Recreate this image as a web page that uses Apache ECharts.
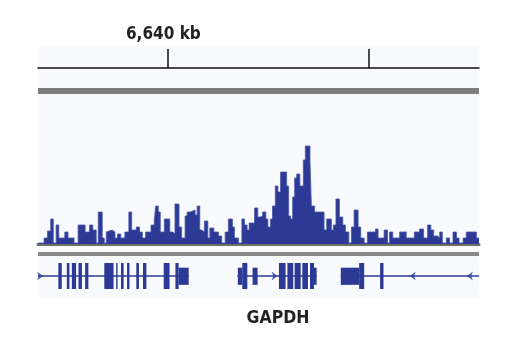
<!DOCTYPE html>
<html>
<head>
<meta charset="utf-8">
<script src="https://cdn.jsdelivr.net/npm/echarts@6/dist/echarts.min.js"></script>
<style>
  html, body { margin: 0; padding: 0; background: #fff; }
  #main { width: 520px; height: 350px; }
</style>
</head>
<body>
<div id="main"></div>
<script>
// view window, kb (hg19 chr12)
const viewStart = 6633.58;
const viewEnd = 6655.47;
const rulerTicks = [6640, 6650];
const rulerLabels = [6640];

// ChIP-seq signal: step starts (kb) and heights
const sigStart = [
  6633.60, 6633.88, 6634.05, 6634.21, 6634.34, 6634.48, 6634.61, 6634.91, 6635.07, 6635.37,
  6635.57, 6635.92, 6636.14, 6636.30, 6636.47, 6636.57, 6636.77, 6636.87, 6636.97, 6637.06,
  6637.26, 6637.40, 6637.53, 6637.69, 6637.89, 6638.09, 6638.23, 6638.46, 6638.62, 6638.76,
  6638.92, 6639.19, 6639.35, 6639.42, 6639.55, 6639.65, 6639.85, 6640.12, 6640.28, 6640.38,
  6640.58, 6640.71, 6640.88, 6640.98, 6641.14, 6641.38, 6641.48, 6641.61, 6641.71, 6641.84,
  6642.01, 6642.11, 6642.31, 6642.54, 6642.70, 6642.87, 6643.03, 6643.23, 6643.33, 6643.53,
  6643.70, 6643.83, 6643.96, 6644.06, 6644.33, 6644.49, 6644.63, 6644.73, 6644.89, 6644.99,
  6645.12, 6645.22, 6645.36, 6645.49, 6645.62, 6645.92, 6646.02, 6646.12, 6646.22, 6646.32,
  6646.42, 6646.58, 6646.75, 6646.85, 6647.08, 6647.15, 6647.31, 6647.78, 6647.91, 6648.14,
  6648.24, 6648.37, 6648.54, 6648.71, 6648.84, 6649.01, 6649.14, 6649.27, 6649.47, 6649.60,
  6649.77, 6649.93, 6650.33, 6650.46, 6650.76, 6650.93, 6651.03, 6651.19, 6651.53, 6651.86,
  6652.26, 6652.52, 6652.72, 6652.92, 6653.08, 6653.22, 6653.42, 6653.52, 6653.65, 6653.85,
  6654.01, 6654.18, 6654.35, 6654.48, 6654.68, 6654.84, 6655.34, 6655.47
];
const sigValue = [
  1, 6, 13, 25, 1, 19, 6, 12, 6, 1,
  19, 12, 19, 14, 1, 32, 6, 1, 12, 14,
  12, 6, 10, 6, 12, 32, 14, 17, 12, 6,
  12, 19, 23, 38, 32, 12, 25, 12, 10, 40,
  17, 6, 28, 32, 34, 29, 38, 14, 12, 23,
  6, 16, 12, 8, 1, 12, 25, 17, 6, 1,
  25, 19, 14, 21, 36, 27, 28, 32, 25, 17,
  25, 38, 58, 52, 72, 58, 28, 25, 47, 66,
  70, 58, 84, 98, 84, 38, 32, 14, 25, 14,
  19, 45, 27, 19, 12, 1, 17, 34, 17, 6,
  1, 12, 15, 6, 14, 1, 12, 6, 12, 6,
  12, 15, 6, 19, 14, 8, 6, 12, 1, 6,
  1, 12, 6, 1, 6, 12, 6, 6
];

// gene models: introns (line spans) and exons
const geneStart = [6633.58, 6643.48, 6648.61];
const geneEnd = [6641.06, 6647.41, 6655.47];
const exonStart = [
  6634.59, 6635.01, 6635.26, 6635.59, 6635.92, 6636.87, 6637.46, 6637.70, 6638.00, 6638.46,
  6638.79, 6639.82, 6640.40, 6640.56,
  6643.50, 6643.72, 6644.23, 6645.54, 6645.96, 6646.32, 6646.70, 6647.08, 6647.28,
  6648.61, 6649.52, 6650.56
];
const exonEnd = [
  6634.76, 6635.14, 6635.47, 6635.76, 6636.08, 6637.33, 6637.53, 6637.83, 6638.12, 6638.59,
  6638.96, 6640.11, 6640.56, 6641.06,
  6643.72, 6643.97, 6644.48, 6645.87, 6646.25, 6646.62, 6646.98, 6647.28, 6647.41,
  6649.52, 6649.77, 6650.73
];
const exonKind = [
  'cds', 'cds', 'cds', 'cds', 'cds', 'cds', 'cds', 'cds', 'cds', 'cds',
  'cds', 'cds', 'cds', 'utr',
  'utr', 'cds', 'utr', 'cds', 'cds', 'cds', 'cds', 'cds', 'utr',
  'utr', 'cds', 'cds'
];
const arrowPos = [6633.68, 6645.32, 6652.19, 6655.02];
const arrowDir = ['+', '+', '-', '-'];
const geneName = 'GAPDH';

const blue = '#2c3a95';

const signalData = sigStart.map((s, i) => [s, sigValue[i]]);
const intronData = geneStart.map((s, i) => [s, geneEnd[i]]);
const exonData = exonStart.map((s, i) => [s, exonEnd[i], exonKind[i] === 'cds' ? 1 : 0]);
const arrowData = arrowPos.map((p, i) => ({ value: [p, 0.5], symbolRotate: arrowDir[i] === '+' ? 0 : 180 }));

const chart = echarts.init(document.getElementById('main'));

const hiddenX = (idx) => ({
  type: 'value', gridIndex: idx, min: viewStart, max: viewEnd,
  axisLine: { show: false }, axisTick: { show: false },
  axisLabel: { show: false }, splitLine: { show: false }
});
const hiddenY = (idx, max) => ({
  type: 'value', gridIndex: idx, min: 0, max: max, show: false, splitLine: { show: false }
});

const font = '"Liberation Sans Narrow", "DejaVu Sans Condensed", "Liberation Sans", sans-serif';

chart.setOption({
  backgroundColor: '#ffffff',
  animation: false,
  graphic: [
    { type: 'rect', z: -10, shape: { x: 38, y: 46, width: 441, height: 252 }, style: { fill: '#f8fafd' } },
    { type: 'rect', z: -5, shape: { x: 38, y: 88, width: 441, height: 6 }, style: { fill: '#7d7d7d' } },
    { type: 'rect', z: -5, shape: { x: 38, y: 252, width: 441, height: 4 }, style: { fill: '#8a8a8a' } },
    {
      type: 'text', x: 278, y: 318,
      style: { text: geneName, fill: '#222', font: 'bold 17.5px ' + font, textAlign: 'center', textVerticalAlign: 'middle' }
    }
  ],
  grid: [
    { left: 38, right: 41, top: 48, height: 20 },
    { left: 38, right: 41, top: 144, bottom: 106 },
    { left: 38, right: 41, top: 263, height: 26 }
  ],
  xAxis: [
    {
      type: 'value', gridIndex: 0, min: viewStart, max: viewEnd,
      axisLine: { show: true, lineStyle: { color: '#111', width: 1.5 } },
      axisTick: { show: true, inside: true, length: 19, customValues: rulerTicks, lineStyle: { color: '#111', width: 1.5 } },
      axisLabel: {
        show: true, inside: true, margin: 25, customValues: rulerLabels,
        color: '#222', fontSize: 17, fontWeight: 'bold', fontFamily: font,
        padding: [0, 8, 0, 0],
        formatter: (v) => v.toLocaleString('en-US') + ' kb'
      },
      splitLine: { show: false }
    },
    Object.assign(hiddenX(1), { axisLine: { show: true, onZero: false, lineStyle: { color: '#6e6e6e', width: 3 } } }),
    hiddenX(2)
  ],
  yAxis: [hiddenY(0, 1), hiddenY(1, 100), hiddenY(2, 1)],
  series: [
    {
      type: 'line', xAxisIndex: 1, yAxisIndex: 1, step: 'end',
      data: signalData, showSymbol: false, symbol: 'none',
      lineStyle: { color: '#4a57a8', width: 0.8 },
      areaStyle: { color: blue, opacity: 1 }
    },
    {
      type: 'custom', xAxisIndex: 2, yAxisIndex: 2, data: intronData,
      renderItem: (params, api) => {
        const a = api.coord([api.value(0), 0.5]);
        const b = api.coord([api.value(1), 0.5]);
        return { type: 'line', shape: { x1: a[0], y1: a[1], x2: b[0], y2: b[1] }, style: { stroke: blue, lineWidth: 1.5 } };
      }
    },
    {
      type: 'custom', xAxisIndex: 2, yAxisIndex: 2, data: exonData,
      renderItem: (params, api) => {
        const tall = api.value(2) === 1;
        const top = tall ? 1 : 0.82;
        const bot = tall ? 0 : 0.16;
        const a = api.coord([api.value(0), top]);
        const b = api.coord([api.value(1), bot]);
        return { type: 'rect', shape: { x: a[0], y: a[1], width: b[0] - a[0], height: b[1] - a[1] }, style: { fill: blue } };
      }
    },
    {
      type: 'scatter', xAxisIndex: 2, yAxisIndex: 2, data: arrowData,
      symbol: 'path://M0,0L10,5L0,10L3,5Z', symbolSize: [6, 9],
      itemStyle: { color: blue }, z: 5
    }
  ]
});
</script>
</body>
</html>
